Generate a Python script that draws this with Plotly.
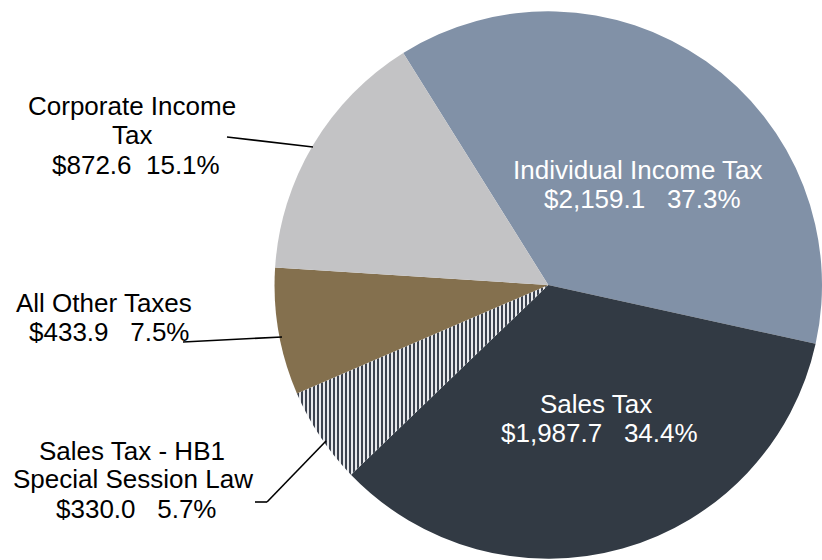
import plotly.graph_objects as go

# Tax revenue by source ($ millions)
categories = [
    "Individual Income Tax",
    "Sales Tax",
    "Sales Tax - HB1 Special Session Law",
    "All Other Taxes",
    "Corporate Income Tax",
]
values = [2159.1, 1987.7, 330.0, 433.9, 872.6]

# How each category name is wrapped in its label
name_lines = [
    ["Individual Income Tax"],
    ["Sales Tax"],
    ["Sales Tax - HB1", "Special Session Law"],
    ["All Other Taxes"],
    ["Corporate Income", "Tax"],
]

# ---- styling / layout ----
W, H = 822, 560
FONT = "Liberation Sans, Arial, Helvetica, sans-serif"
FONT_SIZE = 26
NBSP = "\u00a0"

colors = ["#8191a7", "#323a44", "#3c424e", "#84704e", "#c3c3c5"]
text_colors = ["white", "white", "black", "black", "black"]
value_gaps = [3, 3, 3, 3, 2]  # spaces between amount and percent

# centre (x, y) in pixels of every label line, per slice
line_pos = [
    [(638, 170), (642, 199)],
    [(596, 404), (599, 433)],
    [(132, 451), (133, 479), (136, 509)],
    [(104, 303), (109, 332)],
    [(132, 106), (132, 135), (136, 165)],
]

# leader lines in pixels
leaders = [
    [(227, 137), (313, 147)],
    [(183, 342), (282, 337)],
    [(255, 502), (267, 502), (326, 441)],
]


def paper(x, y):
    return x / W, 1 - y / H


total = sum(values)
pcts = [v / total * 100 for v in values]

fig = go.Figure(
    go.Pie(
        labels=categories,
        values=values,
        sort=False,
        direction="clockwise",
        rotation=-32,
        textinfo="none",
        hoverinfo="label+value+percent",
        showlegend=False,
        marker=dict(
            colors=colors,
            line=dict(width=0),
            pattern=dict(
                shape=["", "", "|", "", ""],
                fgcolor=["#8191a7", "#323a44", "#3c424e", "#84704e", "#c3c3c5"],
                bgcolor=["#8191a7", "#323a44", "#e8e9ec", "#84704e", "#c3c3c5"],
                size=4,
                solidity=0.5,
                fillmode="replace",
            ),
        ),
        domain=dict(x=[0.334, 1.0], y=[0.0, 0.982]),
    )
)

annotations = []
for i, lines in enumerate(name_lines):
    amount = "$" + f"{values[i]:,.1f}" + NBSP * value_gaps[i] + f"{pcts[i]:.1f}%"
    all_lines = lines + [amount]
    for text, (x, y) in zip(all_lines, line_pos[i]):
        px, py = paper(x, y)
        annotations.append(
            dict(
                text=text,
                x=px,
                y=py,
                xref="paper",
                yref="paper",
                xanchor="center",
                yanchor="middle",
                showarrow=False,
                font=dict(family=FONT, size=FONT_SIZE, color=text_colors[i]),
            )
        )

shapes = []
for pts in leaders:
    for (x0, y0), (x1, y1) in zip(pts[:-1], pts[1:]):
        a0, b0 = paper(x0, y0)
        a1, b1 = paper(x1, y1)
        shapes.append(
            dict(
                type="line",
                xref="paper",
                yref="paper",
                x0=a0,
                y0=b0,
                x1=a1,
                y1=b1,
                line=dict(color="black", width=1.6),
            )
        )

fig.update_layout(
    width=W,
    height=H,
    margin=dict(l=0, r=0, t=0, b=0),
    paper_bgcolor="white",
    plot_bgcolor="white",
    annotations=annotations,
    shapes=shapes,
)

fig.write_html("out.html")
